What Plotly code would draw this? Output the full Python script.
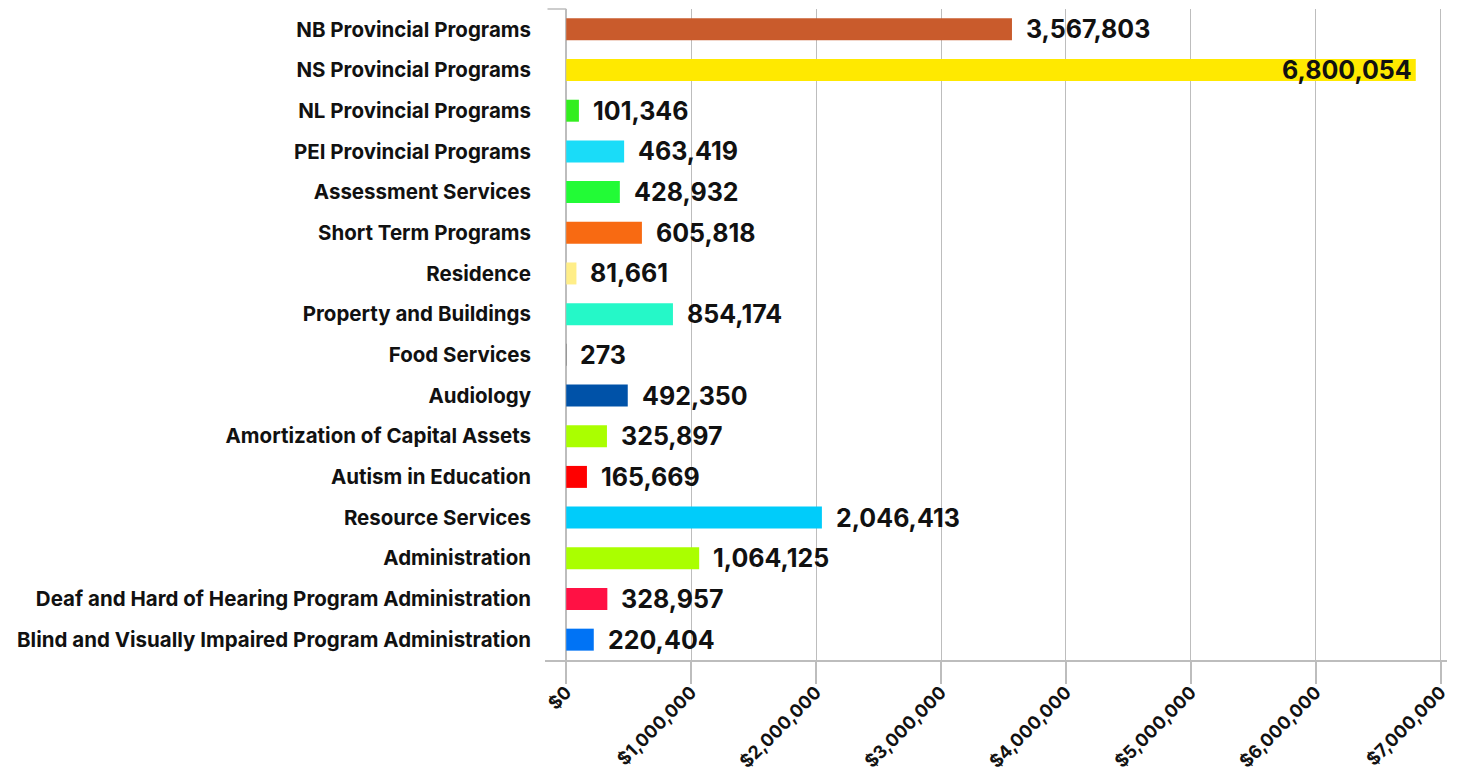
import plotly.graph_objects as go

categories = [
    "NB Provincial Programs",
    "NS Provincial Programs",
    "NL Provincial Programs",
    "PEI Provincial Programs",
    "Assessment Services",
    "Short Term Programs",
    "Residence",
    "Property and Buildings",
    "Food Services",
    "Audiology",
    "Amortization of Capital Assets",
    "Autism in Education",
    "Resource Services",
    "Administration",
    "Deaf and Hard of Hearing Program Administration",
    "Blind and Visually Impaired Program Administration",
]
values = [3567803, 6800054, 101346, 463419, 428932, 605818, 81661, 854174,
          273, 492350, 325897, 165669, 2046413, 1064125, 328957, 220404]
colors = ["#C95B2C", "#FFE900", "#33EE1F", "#1ADCF8", "#22FB36", "#F86A12",
          "#FFEE88", "#25F8C8", "#999999", "#0052A8", "#AAFF00", "#FF0000",
          "#00CCFA", "#AAFF00", "#FF1144", "#0073F5"]
inside_label = [False, True] + [False] * 14

x_ticks = [0, 1000000, 2000000, 3000000, 4000000, 5000000, 6000000, 7000000]
x_tick_text = ["$" + f"{v:,}" for v in x_ticks]

FONT = "Inter"
GRID = "#BDBDBD"

fig = go.Figure()
fig.add_trace(go.Bar(
    x=values, y=categories, orientation="h",
    marker=dict(color=colors, line=dict(width=0)),
    hoverinfo="x+y",
))

for cat, val, ins in zip(categories, values, inside_label):
    fig.add_annotation(
        x=val, y=cat, xref="x", yref="y",
        text=f"{val:,}", showarrow=False,
        xanchor="right" if ins else "left",
        xshift=-2 if ins else 12,
        font=dict(family=FONT, size=25, color="#111111", weight="bold"),
    )

# top tick of the vertical axis
fig.add_shape(type="line", xref="x", yref="paper", x0=-150000, x1=0, y0=1, y1=1,
              line=dict(color=GRID, width=1.5))

# page body adds an 8px margin, so the figure is sized to fit inside the window
fig.update_layout(
    width=1449, height=763,
    margin=dict(l=537, r=10, t=1, b=111),
    paper_bgcolor="white", plot_bgcolor="white",
    bargap=0.46,
    showlegend=False,
    font=dict(family=FONT, color="#111111"),
)
fig.update_xaxes(
    range=[-170000, 7050000],
    tickvals=x_ticks, ticktext=x_tick_text,
    tickangle=-45, automargin=False, ticklabelstandoff=-9,
    tickfont=dict(family=FONT, size=18, color="#111111", weight="bold"),
    showgrid=True, gridcolor=GRID, gridwidth=1,
    zeroline=True, zerolinecolor=GRID, zerolinewidth=1.5,
    showline=True, linecolor=GRID, linewidth=1.5,
    ticks="outside", ticklen=22, tickcolor=GRID, tickwidth=1.5,
)
fig.update_yaxes(
    autorange="reversed", automargin=False,
    tickfont=dict(family=FONT, size=20.5, color="#111111", weight="bold"),
    showgrid=False, ticklabelstandoff=13,
    showline=False,
)

fig.write_html("out.html")
